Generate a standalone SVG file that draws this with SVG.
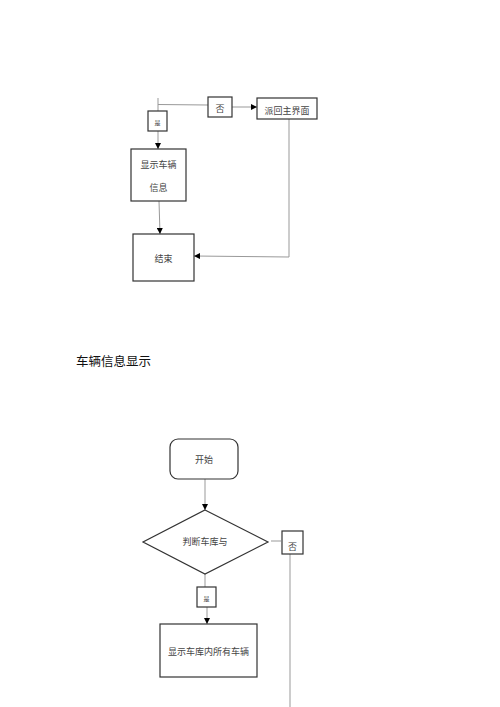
<svg xmlns="http://www.w3.org/2000/svg" width="500" height="707" viewBox="0 0 500 707">
<style>
.box{fill:#fff;stroke:#333;stroke-width:1.2}
.ln{fill:none;stroke:#999;stroke-width:1}
.t{font-family:"Noto Sans CJK SC","Liberation Sans",sans-serif;font-size:9px;fill:#444;text-anchor:middle;dominant-baseline:central}
.s{font-size:6px}
.title{font-family:"Noto Sans CJK SC","Liberation Sans",sans-serif;font-size:12.5px;fill:#111}
</style>
<defs>
<marker id="a" viewBox="0 0 10 10" refX="10" refY="5" markerWidth="6" markerHeight="6" orient="auto" markerUnits="userSpaceOnUse">
<path d="M0,0L10,5L0,10z" fill="#000"/>
</marker>
</defs>
<rect width="500" height="707" fill="#fff"/>
<g id="connectors">
<path class="ln" d="M158,98V111"/>
<path class="ln" d="M158,104.5L208,105"/>
<path class="ln" d="M232,107H257" marker-end="url(#a)"/>
<path class="ln" d="M158,131V149" marker-end="url(#a)"/>
<path class="ln" d="M159,201L160,234" marker-end="url(#a)"/>
<path class="ln" d="M289,119V257L194,256" marker-end="url(#a)"/>
<path class="ln" d="M205,479V510" marker-end="url(#a)"/>
<path class="ln" d="M271,541H281"/>
<path class="ln" d="M290,552V707"/>
<path class="ln" d="M205,574V587"/>
<path class="ln" d="M207,607V624" marker-end="url(#a)"/>
</g>
<g id="n-no1"><rect class="box" x="208" y="97" width="24" height="20"/><text class="t" x="220" y="108">否</text></g>
<g id="n-return"><rect class="box" x="257" y="98" width="60" height="21"/><text class="t" x="287" y="110">派回主界面</text></g>
<g id="n-yes1"><rect class="box" x="148" y="111" width="19" height="20"/><text class="t s" x="157.5" y="122">是</text></g>
<g id="n-show"><rect class="box" x="131" y="149" width="55" height="52"/><text class="t" x="158.5" y="164">显示车辆</text><text class="t" x="158.5" y="187">信息</text></g>
<g id="n-end"><rect class="box" x="133" y="234" width="61" height="47"/><text class="t" x="163.5" y="258">结束</text></g>
<text class="title" x="76" y="366">车辆信息显示</text>
<g id="n-start"><rect class="box" x="170" y="439" width="68" height="40" rx="8"/><text class="t" x="204" y="459">开始</text></g>
<g id="n-judge"><path class="box" d="M205,510L268,542L205,574L143,542z"/><text class="t" x="205" y="541">判断车库与</text></g>
<g id="n-no2"><rect class="box" x="282" y="531" width="21" height="23"/><text class="t" x="292.5" y="546">否</text></g>
<g id="n-yes2"><rect class="box" x="197" y="587" width="19" height="20"/><text class="t s" x="206.5" y="598">是</text></g>
<g id="n-showall"><rect class="box" x="160" y="624" width="97" height="53"/><text class="t" x="208.5" y="651">显示车库内所有车辆</text></g>
</svg>
